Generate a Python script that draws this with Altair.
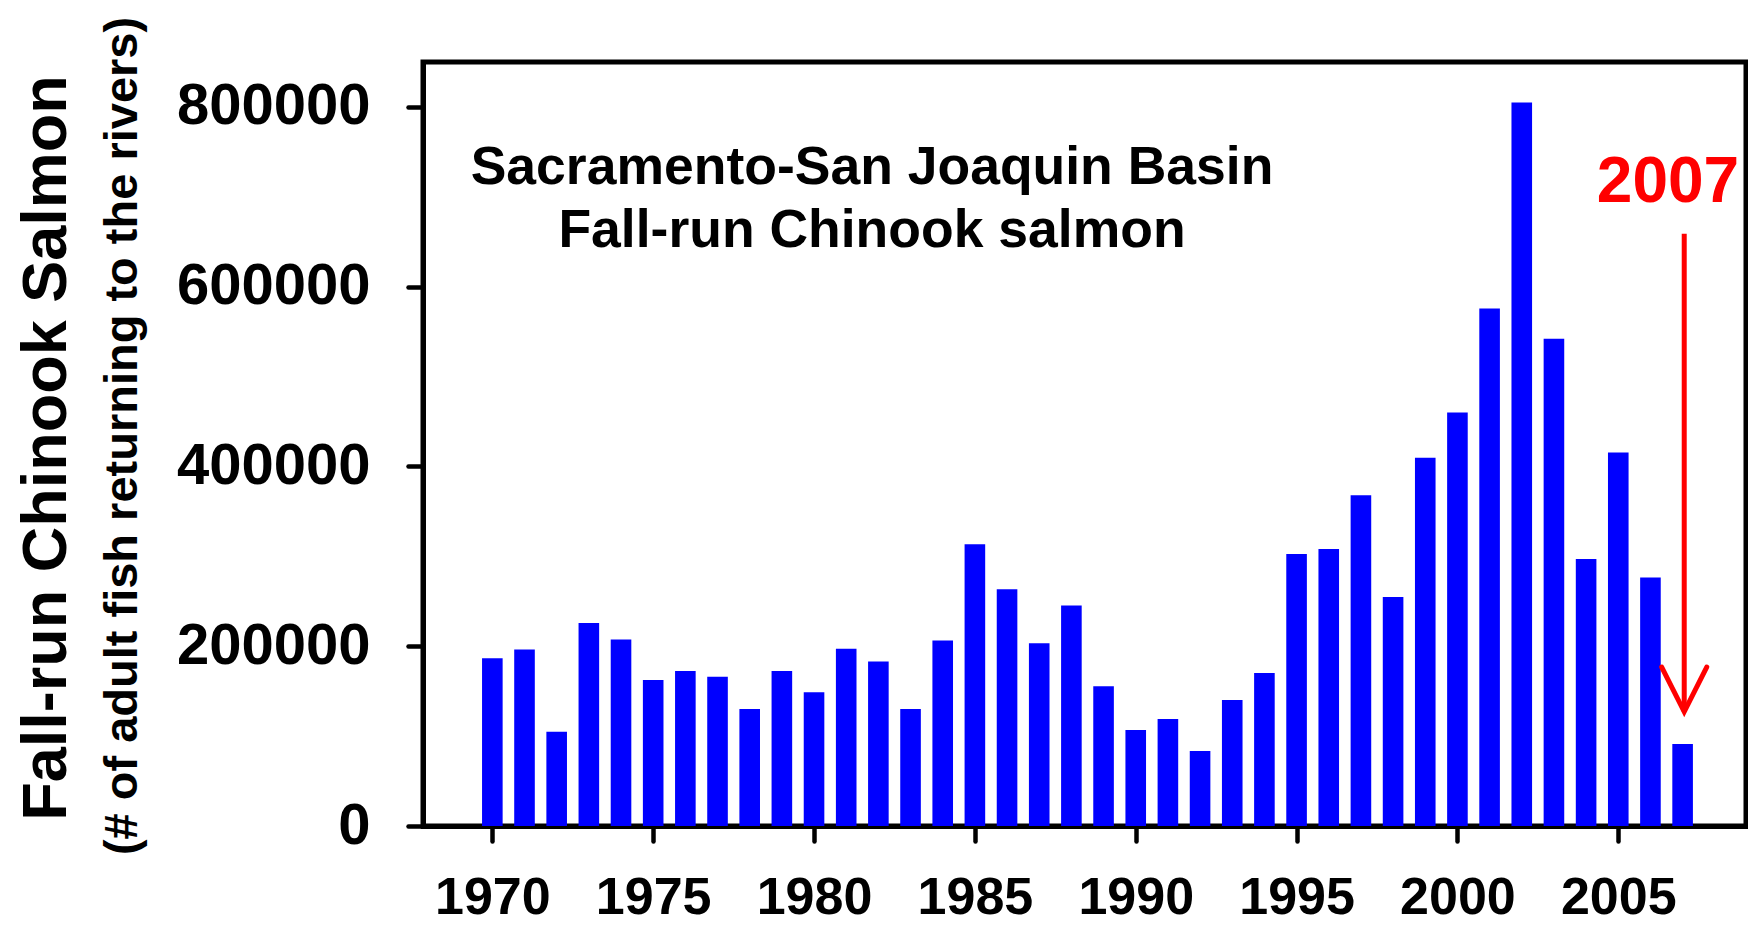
import altair as alt
import pandas as pd

# ---- data ----
YEARS = list(range(1970, 2008))
COUNTS = [186500, 196500, 104900, 225800, 207600, 162400, 172400, 166100, 130100, 172400,
          148700, 197200, 183100, 130100, 206500, 313500, 263300, 203200, 245400, 155400,
          106800, 119100, 83400, 140100, 170200,
          302500, 308100, 368100, 254700, 409600, 460100, 575800, 804900, 542000, 297000,
          415600, 276600, 91300]

Y_TICKS = [0, 200000, 400000, 600000, 800000]
X_TICKS = [1970, 1975, 1980, 1985, 1990, 1995, 2000, 2005]

# arrow pointing at 2007 (shaft and chevron head, in data units)
ARROW_SHAFT_X = [2007.05]
ARROW_SHAFT_TOP = [658800]
ARROW_SHAFT_TIP = [127100]
ARROW_HEAD_X = [2006.35, 2007.05, 2007.75]
ARROW_HEAD_Y = [176800, 127100, 176800]

TITLE_MAIN = "Fall-run Chinook Salmon"
TITLE_SUB = "(# of adult fish returning to the rivers)"
NOTE_1 = "Sacramento-San Joaquin Basin"
NOTE_2 = "Fall-run Chinook salmon"
NOTE_YEAR = "2007"

FONT = "Liberation Sans"

df = pd.DataFrame({"year": YEARS, "value": COUNTS})
shaft = pd.DataFrame({"year": ARROW_SHAFT_X, "value": ARROW_SHAFT_TOP, "value2": ARROW_SHAFT_TIP})
head = pd.DataFrame({"year": ARROW_HEAD_X, "value": ARROW_HEAD_Y, "order": [0, 1, 2]})
one = pd.DataFrame({"k": [0]})

PLOT_W = 1323
x_scale = alt.Scale(domain=[1968, 1968 + 41 * PLOT_W / 1329], nice=False, zero=False)
y_scale = alt.Scale(domain=[0, 850000], nice=False)

bars = alt.Chart(df).mark_bar(color="#0000ff", size=20.6).encode(
    x=alt.X("year:Q", scale=x_scale,
            axis=alt.Axis(values=X_TICKS, format="d", title=None, labelFontSize=52,
                          labelPadding=31, tickSize=15)),
    y=alt.Y("value:Q", scale=y_scale,
            axis=alt.Axis(values=Y_TICKS, format="d", title=None, labelFontSize=58,
                          labelPadding=38, tickSize=15, labelLimit=0)),
)

arrow_shaft = alt.Chart(shaft).mark_rule(color="#ff0000", strokeWidth=5).encode(
    x="year:Q", y="value:Q", y2="value2:Q"
)
arrow_head = alt.Chart(head).mark_line(color="#ff0000", strokeWidth=5, strokeCap="round",
                                       strokeJoin="miter").encode(
    x="year:Q", y="value:Q", order="order:Q"
)

def label(text, x, y, size, color="black", angle=0, align="center"):
    return alt.Chart(one).mark_text(
        text=text, font=FONT, fontWeight="bold", fontSize=size, color=color,
        angle=angle, align=align, baseline="alphabetic", limit=0
    ).encode(x=alt.value(x), y=alt.value(y))

t_main = label(TITLE_MAIN, -357, 386, 63, angle=270)
t_sub = label(TITLE_SUB, -286, 374, 47, angle=270)
n1 = label(NOTE_1, 449, 121.7, 53.5)
n2 = label(NOTE_2, 449, 185.4, 53.5)
n3 = label(NOTE_YEAR, 1245, 139.7, 64, color="#ff0000")

chart = alt.layer(bars, arrow_shaft, arrow_head, t_main, t_sub, n1, n2, n3).properties(
    width=PLOT_W, height=764,
    autosize=alt.AutoSizeParams(type="none"),
    padding={"left": 415, "top": 54, "right": 2, "bottom": 99},
).configure_view(
    stroke="black", strokeWidth=5
).configure_axis(
    grid=False, domainColor="black", domainWidth=5, tickColor="black", tickWidth=4.5,
    tickCap="round", labelColor="black", labelFont=FONT, labelFontWeight="bold",
    domainCap="square"
)

chart.save("out.html", embed_options={"renderer": "svg", "actions": False})
